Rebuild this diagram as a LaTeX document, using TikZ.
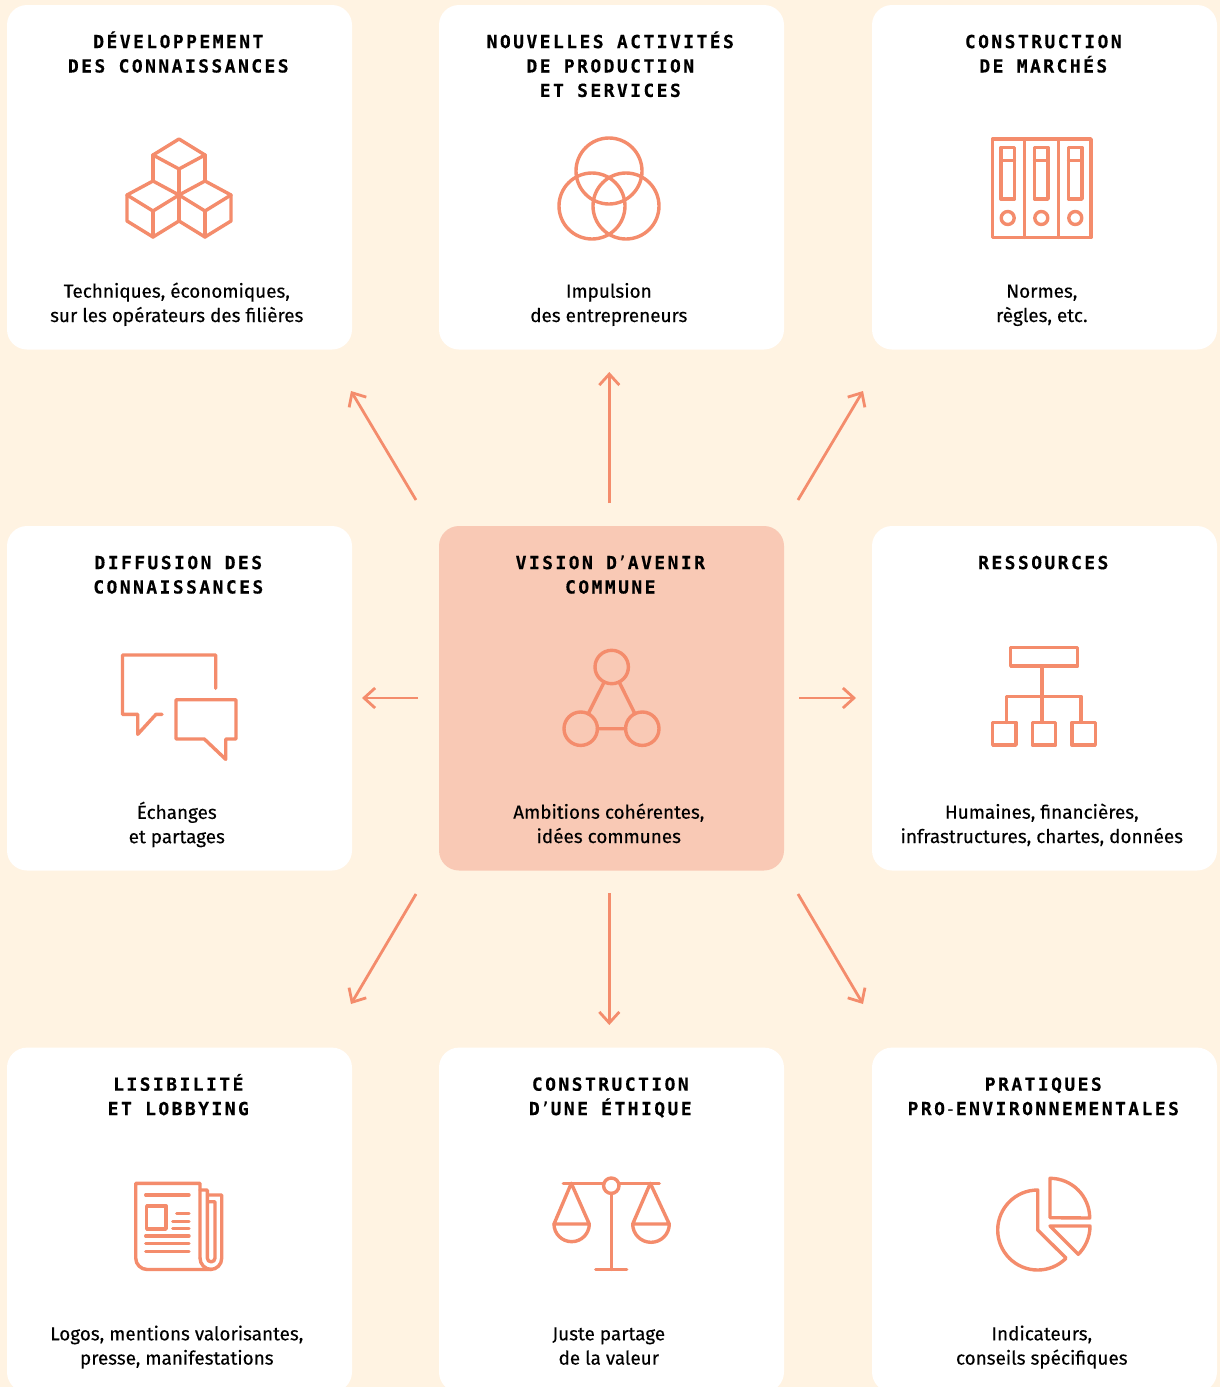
\documentclass[tikz,border=0pt]{standalone}
\usepackage{fontspec}
\usetikzlibrary{arrows.meta,calc}
\setmainfont[FakeBold=0.25]{Fira Sans}
\newfontfamily\titlef[LetterSpace=13.5,BoldFeatures={FakeBold=0.3}]{DejaVu Sans Mono}
\definecolor{bgc}{HTML}{FFF3E2}
\definecolor{peach}{HTML}{F9C9B5}
\definecolor{sal}{HTML}{F48C6C}
\tikzset{
  cardbox/.style={draw=none,fill=white,rounded corners=20pt,minimum width=345pt,minimum height=344.5pt,inner sep=0,outer sep=0,anchor=north west},
  corecard/.style={cardbox,fill=peach},
  titletext/.style={anchor=north,inner sep=0,outer sep=0,align=center,font=\titlef\bfseries\fontsize{18pt}{24.4pt}\selectfont,text=black},
  bodytext/.style={anchor=north,inner sep=0,outer sep=0,align=center,font=\fontsize{18.9pt}{24.3pt}\selectfont,text=black},
  icon/.style={draw=sal,line width=3.4pt,line join=round,line cap=round},
  flow/.style={draw=sal,line width=2.8pt,-{Straight Barb[length=11pt,width=20pt,line width=2.8pt]}},
  ring/.style={circle,draw=sal,line width=3.4pt,inner sep=0,outer sep=0,minimum size=33.4pt}
}
\newcommand{\cardat}[6]{%
  \node[#4] (#1) at (#2,#3) {};
  \node[titletext] (#1t) at ($(#1.north)+(-1.2,26.1)$) {\rule{0pt}{17pt}#5};
  \node[bodytext] (#1b) at ($(#1.north)+(-2.7,275.7)$) {\rule{0pt}{17pt}#6};
}
\newcommand{\thinch}[1]{{\mdseries #1}}
\begin{document}
\begin{tikzpicture}[x=1pt,y=-1pt]
\useasboundingbox (0,0) rectangle (1220,1387);
\fill[bgc] (0,0) rectangle (1220,1387);
\begin{scope}
\clip (0,0) rectangle (1220,1387);
\cardat{dev}{7}{5}{cardbox}{DÉVELOPPEMENT\\DES CONNAISSANCES}{Techniques, économiques,\\sur les opérateurs des filières}
\cardat{act}{439}{5}{cardbox}{NOUVELLES ACTIVITÉS\\DE PRODUCTION\\ET SERVICES}{Impulsion\\des entrepreneurs}
\cardat{mar}{872}{5}{cardbox}{CONSTRUCTION\\DE MARCHÉS}{Normes,\\règles, etc.}
\cardat{dif}{7}{526}{cardbox}{DIFFUSION DES\\CONNAISSANCES}{Échanges\\et partages}
\cardat{vis}{439}{526}{corecard}{VISION D\thinch{’}AVENIR\\COMMUNE}{Ambitions cohérentes,\\idées communes}
\cardat{res}{872}{526}{cardbox}{RESSOURCES}{Humaines, financières,\\infrastructures, chartes, données}
\cardat{lis}{7}{1047.6}{cardbox}{LISIBILITÉ\\ET LOBBYING}{Logos, mentions valorisantes,\\presse, manifestations}
\cardat{eth}{439}{1047.6}{cardbox}{CONSTRUCTION\\D\thinch{’}UNE ÉTHIQUE}{Juste partage\\de la valeur}
\cardat{pra}{872}{1047.6}{cardbox}{PRATIQUES\\PRO\thinch{-}ENVIRONNEMENTALES}{Indicateurs,\\conseils spécifiques}
\end{scope}
% connector ends
\coordinate (a1) at (416,500); \coordinate (b1) at (351,391);
\coordinate (a2) at (609.3,503); \coordinate (b2) at (609.3,372);
\coordinate (a3) at (798,500); \coordinate (b3) at (863,391);
\coordinate (a4) at (418,698); \coordinate (b4) at (362,698);
\coordinate (a5) at (799,698); \coordinate (b5) at (856,698);
\coordinate (a6) at (416,894); \coordinate (b6) at (351,1004);
\coordinate (a7) at (609.3,893); \coordinate (b7) at (609.3,1025);
\coordinate (a8) at (798,894); \coordinate (b8) at (863,1004);
\foreach \i in {1,...,8} \draw[flow] (a\i) -- (b\i);
% cubes
\begin{scope}[icon]
\draw (179,139)--(205,155)--(179,169)--(153,155)--cycle;
\draw (153,155)--(153,181) (205,155)--(205,181) (179,169)--(179,195);
\draw (153,181)--(179,195)--(205,181)--(231,195)--(205,211)--(179,195)--(153,211)--(127,195)--cycle;
\draw (127,195)--(127,221)--(153,237)--(179,221)--(205,237)--(231,221)--(231,195);
\draw (153,211)--(153,237) (179,195)--(179,221) (205,211)--(205,237);
\end{scope}
% venn
\begin{scope}[icon]
\draw (609,171) circle[radius=33pt];
\draw (592,206) circle[radius=33pt];
\draw (626,206) circle[radius=33pt];
\end{scope}
% binders
\begin{scope}[icon]
\draw (992.5,139) rectangle (1091,237.5);
\draw (1024.5,139)--(1024.5,237.5) (1058.5,139)--(1058.5,237.5);
\foreach \q in {1007.7,1041.3,1075.3}{
  \draw (\q-6.7,147.5) rectangle (\q+6.7,199);
  \draw (\q-6.7,160.7)--(\q+6.7,160.7);
  \draw (\q,218) circle[radius=6.5pt];
}
\end{scope}
% speech bubbles
\begin{scope}[icon]
\draw (215.7,688.3)--(215.7,655)--(122.5,655)--(122.5,714.3)--(137.7,714.3)--(137.7,734.3)--(156,714.3)--(162,714.3);
\draw (176,699.7)--(236,699.7)--(236,739)--(225.7,739)--(225.7,759.3)--(204.3,739)--(176,739)--cycle;
\end{scope}
% triangle of rings
\node[ring] (ta) at (611.7,667) {};
\node[ring] (tb) at (580.7,728.7) {};
\node[ring] (tc) at (642.3,728.7) {};
\draw[icon] (ta)--(tb) (tb)--(tc) (tc)--(ta);
% org chart
\begin{scope}[icon]
\draw (1010.7,647.7) rectangle (1077.7,666);
\draw (1042,666)--(1042,722.3);
\draw (1006.3,722.3)--(1006.3,696.3)--(1081,696.3)--(1081,722.3);
\draw (992.7,722.3) rectangle (1016,745);
\draw (1032.3,722.3) rectangle (1055.7,745);
\draw (1072,722.3) rectangle (1095.3,745);
\end{scope}
% newspaper
\begin{scope}[icon]
\draw (200,1258)--(200,1183.3)--(135.7,1183.3)--(135.7,1258) arc[start angle=180,end angle=270,radius=11.5pt] -- (210.5,1269.5) arc[start angle=270,end angle=360,radius=11.2pt] -- (221.7,1195)--(207.5,1195);
\draw (200,1258) arc[start angle=180,end angle=270,radius=11.5pt];
\draw (200,1190)--(207.3,1190)--(207.3,1258) arc[start angle=180,end angle=360,radius=3.85pt]--(215,1201.7)--(207.3,1201.7);
\draw (145.7,1195)--(189,1195);
\draw (146.7,1206) rectangle (166,1229);
\draw (176.7,1213.7)--(189,1213.7) (172.7,1221.3)--(189,1221.3) (172.7,1228.7)--(189,1228.7);
\draw (145.7,1236)--(189,1236) (145.7,1243.7)--(189,1243.7) (145.7,1251.3)--(189,1251.3);
\end{scope}
% scales
\begin{scope}[icon]
\draw (563.3,1183.3)--(603.6,1183.3) (619,1183.3)--(659.3,1183.3);
\draw (611.3,1185.7) circle[radius=7.7pt];
\draw (611.3,1193.4)--(611.3,1269.3) (595.7,1269.3)--(626.7,1269.3);
\draw (571.3,1183.3)--(554,1224)--(589.3,1224)--cycle;
\draw (554,1224) arc[start angle=180,end angle=360,radius=17.65pt];
\draw (650.3,1183.3)--(632.7,1224)--(669.3,1224)--cycle;
\draw (632.7,1224) arc[start angle=180,end angle=360,radius=18.3pt];
\end{scope}
% pie
\begin{scope}[icon]
\draw (1050,1217.7)--(1050,1178.3) arc[start angle=90,end angle=0,radius=39.7pt]--cycle;
\draw (1050,1226)--(1090,1226) arc[start angle=0,end angle=-45,radius=40pt]--cycle;
\draw (1066,1258)--(1037.7,1230)--(1037.7,1190) arc[start angle=90,end angle=315,radius=40pt];
\end{scope}
\end{tikzpicture}
\end{document}
